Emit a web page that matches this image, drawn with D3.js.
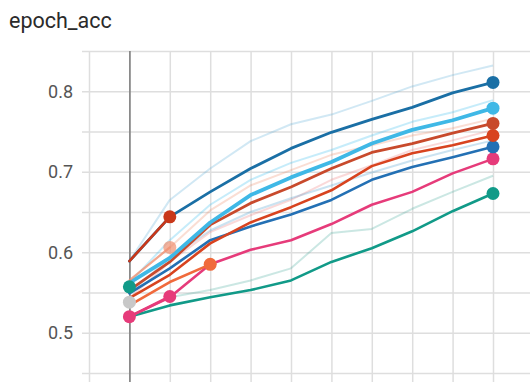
<!DOCTYPE html>
<html>
<head>
<meta charset="utf-8">
<script src="https://cdn.jsdelivr.net/npm/d3@7"></script>
<style>
  html, body { margin: 0; padding: 0; background: #fff; }
  svg { display: block; }
  text { font-family: Roboto, "Noto Sans", sans-serif; }
</style>
</head>
<body>
<svg id="chart" width="530" height="382"></svg>
<script>
// Training steps (epochs) and grid/tick values
const steps = [0, 1, 2, 3, 4, 5, 6, 7, 8, 9];
const xGridSteps = [-1, 0, 1, 2, 3, 4, 5, 6, 7, 8, 9, 10];
const yGridValues = [0.45, 0.5, 0.55, 0.6, 0.65, 0.7, 0.75, 0.8, 0.85];
const yTickLabels = [0.5, 0.6, 0.7, 0.8];

// Smoothed accuracy per run
const accDarkBlue = [0.589, 0.644, 0.675, 0.704, 0.729, 0.749, 0.765, 0.780, 0.798, 0.811];
const accCyan     = [0.562, 0.593, 0.637, 0.671, 0.693, 0.712, 0.735, 0.752, 0.764, 0.779];
const accBrick    = [0.553, 0.588, 0.634, 0.661, 0.681, 0.704, 0.724, 0.735, 0.748, 0.760];
const accRed      = [0.543, 0.572, 0.611, 0.637, 0.656, 0.677, 0.707, 0.723, 0.733, 0.745];
const accBlue     = [0.549, 0.580, 0.615, 0.632, 0.647, 0.665, 0.690, 0.706, 0.718, 0.731];
const accMagenta  = [0.520, 0.544, 0.585, 0.603, 0.615, 0.635, 0.659, 0.675, 0.698, 0.716];
const accTeal     = [0.520, 0.534, 0.544, 0.553, 0.565, 0.588, 0.605, 0.626, 0.651, 0.673];

// Short runs that stopped early
const accRedShort      = [0.589, 0.644];
const accSalmonShort   = [0.565, 0.606];
const accOrangeShort   = [0.534, 0.563, 0.585];
const accMagentaShort  = [0.520, 0.545];
const accTealSingle    = [0.557];
const accGreySingle    = [0.538];
const accMagentaSingle = [0.520];

// Raw (unsmoothed) traces shown faintly behind
const rawLightBlue = [0.589, 0.665, 0.704, 0.738, 0.759, 0.771, 0.788, 0.806, 0.820, 0.832];
const rawCyan      = [0.562, 0.615, 0.659, 0.690, 0.711, 0.727, 0.745, 0.762, 0.774, 0.789];
const rawSalmon    = [0.565, 0.606, 0.652, 0.683, 0.702, 0.721, 0.733, 0.745, 0.754, 0.766];
const rawRed       = [0.543, 0.588, 0.625, 0.646, 0.665, 0.690, 0.708, 0.727, 0.739, 0.752];
const rawBlue      = [0.549, 0.593, 0.627, 0.650, 0.667, 0.683, 0.699, 0.714, 0.727, 0.739];
const rawTeal      = [0.520, 0.544, 0.553, 0.565, 0.580, 0.624, 0.629, 0.654, 0.675, 0.695];

const faded = [
  { values: rawLightBlue, color: "#5aaed8" },
  { values: rawCyan,      color: "#33bbee" },
  { values: rawSalmon,    color: "#ee8866" },
  { values: rawRed,       color: "#ee7777" },
  { values: rawBlue,      color: "#4499cc" },
  { values: rawTeal,      color: "#44aa99" }
];

const runs = [
  { values: accTeal,          color: "#119a88", width: 2.6 },
  { values: accMagenta,       color: "#e63b7a", width: 2.6 },
  { values: accBlue,          color: "#2370b4", width: 2.6 },
  { values: accRed,           color: "#d8431f", width: 2.6 },
  { values: accBrick,         color: "#c84a2c", width: 2.8 },
  { values: accCyan,          color: "#3fb8e6", width: 3.8 },
  { values: accDarkBlue,      color: "#1a6fa5", width: 2.8 },
  { values: accSalmonShort,   color: "#f09070", width: 2.2, opacity: 0.7 },
  { values: accOrangeShort,   color: "#f06a3c", width: 2.6 },
  { values: accMagentaShort,  color: "#e63b7a", width: 2.6 },
  { values: accRedShort,      color: "#c9381a", width: 2.6 },
  { values: accTealSingle,    color: "#119a88", width: 2.6 },
  { values: accGreySingle,    color: "#c8c8c8", width: 2.6 },
  { values: accMagentaSingle, color: "#e63b7a", width: 2.6 }
];

const svg = d3.select("#chart");

const x = d3.scaleLinear().domain([-1, 10]).range([89, 533.4]);
const y = d3.scaleLinear().domain([0.45, 0.85]).range([373, 51]);

// Title
svg.append("text")
  .attr("x", 9).attr("y", 28)
  .attr("font-size", 21.5)
  .attr("fill", "#2b2b2b")
  .text("epoch_acc");

// Horizontal grid + y labels
const yAxis = d3.axisLeft(y)
  .tickValues(yGridValues)
  .tickSize(-(530 - 82))
  .tickPadding(9)
  .tickFormat(d => yTickLabels.some(t => Math.abs(t - d) < 1e-9) ? d3.format(".1f")(d) : "");

const gy = svg.append("g").attr("transform", "translate(82,0)").call(yAxis);
gy.select(".domain").remove();
gy.selectAll(".tick line").attr("stroke", "#dedede").attr("stroke-width", 1.5);
gy.selectAll(".tick text")
  .attr("font-size", 18)
  .attr("fill", "#555")
  .attr("font-family", "Roboto, 'Noto Sans', sans-serif");

// Vertical grid
const xAxis = d3.axisBottom(x)
  .tickValues(xGridSteps)
  .tickSize(-(382 - 51))
  .tickFormat("");
const gx = svg.append("g").attr("transform", "translate(0,382)").call(xAxis);
gx.select(".domain").remove();
gx.selectAll(".tick line")
  .attr("stroke", d => d === 0 ? "#8a8a8a" : "#dedede")
  .attr("stroke-width", d => d === 0 ? 1.8 : 1.5);

const line = d3.line()
  .x((d, i) => x(steps[i]))
  .y(d => y(d));

// Faint raw traces
svg.append("g").selectAll("path")
  .data(faded)
  .join("path")
  .attr("d", d => line(d.values))
  .attr("fill", "none")
  .attr("stroke", d => d.color)
  .attr("stroke-width", 2)
  .attr("stroke-opacity", 0.28)
  .attr("stroke-linejoin", "round");

// Smoothed runs
svg.append("g").selectAll("path")
  .data(runs.filter(r => r.values.length > 1))
  .join("path")
  .attr("d", d => line(d.values))
  .attr("fill", "none")
  .attr("stroke", d => d.color)
  .attr("stroke-width", d => d.width)
  .attr("stroke-opacity", d => d.opacity || 1)
  .attr("stroke-linejoin", "round")
  .attr("stroke-linecap", "round");

// Markers at the last point of every run
svg.append("g").selectAll("circle")
  .data(runs)
  .join("circle")
  .attr("cx", d => x(steps[d.values.length - 1]))
  .attr("cy", d => y(d.values[d.values.length - 1]))
  .attr("r", 6.5)
  .attr("fill", d => d.color)
  .attr("fill-opacity", d => d.opacity || 1);
</script>
</body>
</html>
